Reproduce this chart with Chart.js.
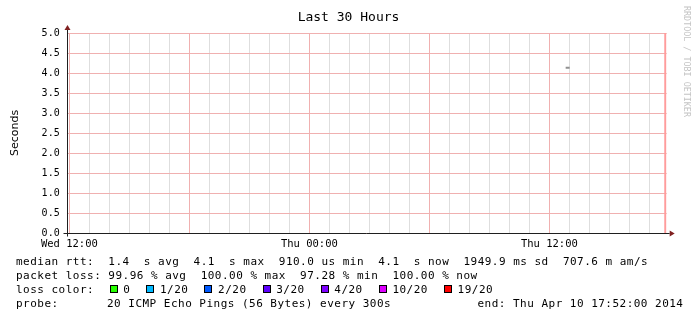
<!DOCTYPE html>
<html>
<head>
<meta charset="utf-8">
<script src="https://cdn.jsdelivr.net/npm/chart.js@4/dist/chart.umd.min.js"></script>
<style>
html,body{margin:0;padding:0;background:#fff;}
#wrap{position:relative;width:697px;height:321px;overflow:hidden;background:#fff;}
#c{position:absolute;left:0;top:0;}
.t{position:absolute;font-family:"DejaVu Sans Mono",monospace;font-size:11px;letter-spacing:0.48px;white-space:pre;color:#000;line-height:11px;}
.box{position:absolute;width:6px;height:6px;border:1px solid #000;}
#title{position:absolute;left:0;top:10px;width:697px;text-align:center;font-family:"DejaVu Sans Mono",monospace;font-size:13px;line-height:13px;color:#000;white-space:pre;}
#wm{position:absolute;left:682px;top:6px;writing-mode:vertical-rl;font-family:"DejaVu Sans Mono",monospace;font-size:8.4px;line-height:9px;color:#c4c4c4;white-space:pre;}
</style>
</head>
<body>
<div id="wrap">
<canvas id="c" width="697" height="321"></canvas>
<div id="title">Last 30 Hours</div>
<div id="wm">RRDTOOL / TOBI OETIKER</div>
<div id="legend"></div>
</div>
<script>
// ---- data ----
const timeLabels = ['Wed 12:00', 'Thu 00:00', 'Thu 12:00'];
const labelHours = [0.1333, 12.1333, 24.1333];      // hours since window start (Wed 11:52)
const yTickValues = [0, 0.5, 1, 1.5, 2, 2.5, 3, 3.5, 4, 4.5, 5];
const medianHours = [24.95, 25.15];
const medianSeconds = [4.13, 4.13];
const ruleHours = [29.93, 29.93];
const ruleSeconds = [0, 5];
const lossLabels = ['0', '1/20', '2/20', '3/20', '4/20', '10/20', '19/20'];
const lossColors = ['#26ff00', '#00b8ff', '#0059ff', '#5e00ff', '#7e00ff', '#dd00ff', '#ff0000'];
const statLines = [
  'median rtt:  1.4  s avg  4.1  s max  910.0 us min  4.1  s now  1949.9 ms sd  707.6 m am/s',
  'packet loss: 99.96 % avg  100.00 % max  97.28 % min  100.00 % now'
];
const probeText = ['probe:', '20 ICMP Echo Pings (56 Bytes) every 300s', 'end: Thu Apr 10 17:52:00 2014'];

// ---- legend (HTML text) ----
const legend = document.getElementById('legend');
const CH = 7.1;
function addText(txt, left, baseline) {
  const d = document.createElement('div');
  d.className = 't';
  d.textContent = txt;
  d.style.left = left + 'px';
  d.style.top = (baseline - 9.3) + 'px';
  legend.appendChild(d);
}
addText(statLines[0], 16, 265);
addText(statLines[1], 16, 279);
addText('loss color:', 16, 293);
let bx = 109.5;
lossLabels.forEach((lab, i) => {
  const b = document.createElement('div');
  b.className = 'box';
  b.style.left = bx + 'px';
  b.style.top = '285.3px';
  b.style.background = lossColors[i];
  legend.appendChild(b);
  const tx = bx + 13.7;
  addText(lab, tx, 293);
  bx = tx + lab.length * CH + 16;
});
addText(probeText[0], 16, 307);
addText(probeText[1], 107, 307);
addText(probeText[2], 477.5, 307);

// ---- chart ----
Chart.defaults.color = '#000';
const MAJOR = '#f0b0b0';
const MINOR = '#dedede';

const axesPlugin = {
  id: 'rrdAxes',
  afterDatasetsDraw(chart) {
    const {ctx, chartArea: a} = chart;
    const L = Math.round(a.left) + 0.5;
    const B = Math.round(a.bottom) + 0.5;
    ctx.save();
    ctx.strokeStyle = '#1f1f1f';
    ctx.lineWidth = 1;
    ctx.beginPath();
    ctx.moveTo(L - 4, B); ctx.lineTo(a.right + 3, B);
    ctx.moveTo(L, B + 3); ctx.lineTo(L, a.top - 3);
    ctx.stroke();
    ctx.fillStyle = '#802020';
    ctx.beginPath();
    ctx.moveTo(a.right + 3, B - 3); ctx.lineTo(a.right + 8, B); ctx.lineTo(a.right + 3, B + 3); ctx.closePath();
    ctx.fill();
    ctx.beginPath();
    ctx.moveTo(L - 3, a.top - 3); ctx.lineTo(L, a.top - 8); ctx.lineTo(L + 3, a.top - 3); ctx.closePath();
    ctx.fill();
    ctx.restore();
  }
};

new Chart(document.getElementById('c'), {
  type: 'scatter',
  data: {
    datasets: [
      {
        data: medianHours.map((h, i) => ({x: h, y: medianSeconds[i]})),
        showLine: true, borderColor: '#909090', borderWidth: 2, pointRadius: 0,
        borderCapStyle: 'butt'
      },
      {
        data: ruleHours.map((h, i) => ({x: h, y: ruleSeconds[i]})),
        showLine: true, borderColor: '#ff9c9c', borderWidth: 2, pointRadius: 0,
        borderCapStyle: 'butt'
      }
    ]
  },
  options: {
    responsive: false,
    animation: false,
    devicePixelRatio: 1,
    layout: {padding: {left: 0, right: 30.33, top: 33, bottom: 68}},
    plugins: {legend: {display: false}, tooltip: {enabled: false}, title: {display: false}},
    scales: {
      x: {
        type: 'linear', min: 0, max: 30,
        afterFit(s) { s.height = 20; },
        afterBuildTicks(s) {
          const t = [];
          for (let k = 0; labelHours[0] + k < 30; k++) t.push({value: labelHours[0] + k});
          s.ticks = t;
        },
        border: {display: false},
        grid: {
          drawTicks: false,
          color: (c) => {
            const k = Math.round(c.tick.value - labelHours[0]);
            return k % 6 === 0 ? MAJOR : MINOR;
          },
          lineWidth: 1
        },
        ticks: {
          autoSkip: false, maxRotation: 0, padding: 5,
          font: {family: 'DejaVu Sans Mono', size: 10.5},
          color: '#000',
          callback: (v) => {
            const i = labelHours.findIndex(h => Math.abs(h - v) < 1e-6);
            return i >= 0 ? timeLabels[i] : '';
          }
        }
      },
      y: {
        type: 'linear', min: 0, max: 5,
        afterFit(s) { s.width = 66.67; },
        afterBuildTicks(s) { s.ticks = yTickValues.map(v => ({value: v})); },
        border: {display: false},
        grid: {drawTicks: false, color: MAJOR, lineWidth: 1},
        ticks: {
          padding: 7,
          font: {family: 'DejaVu Sans Mono', size: 10},
          color: '#000',
          callback: (v) => Number(v).toFixed(1)
        },
        title: {
          display: true, text: 'Seconds', color: '#000',
          font: {family: 'DejaVu Sans', size: 11},
          padding: {top: 8.2, bottom: 0}
        }
      }
    }
  },
  plugins: [axesPlugin]
});
</script>
</body>
</html>
